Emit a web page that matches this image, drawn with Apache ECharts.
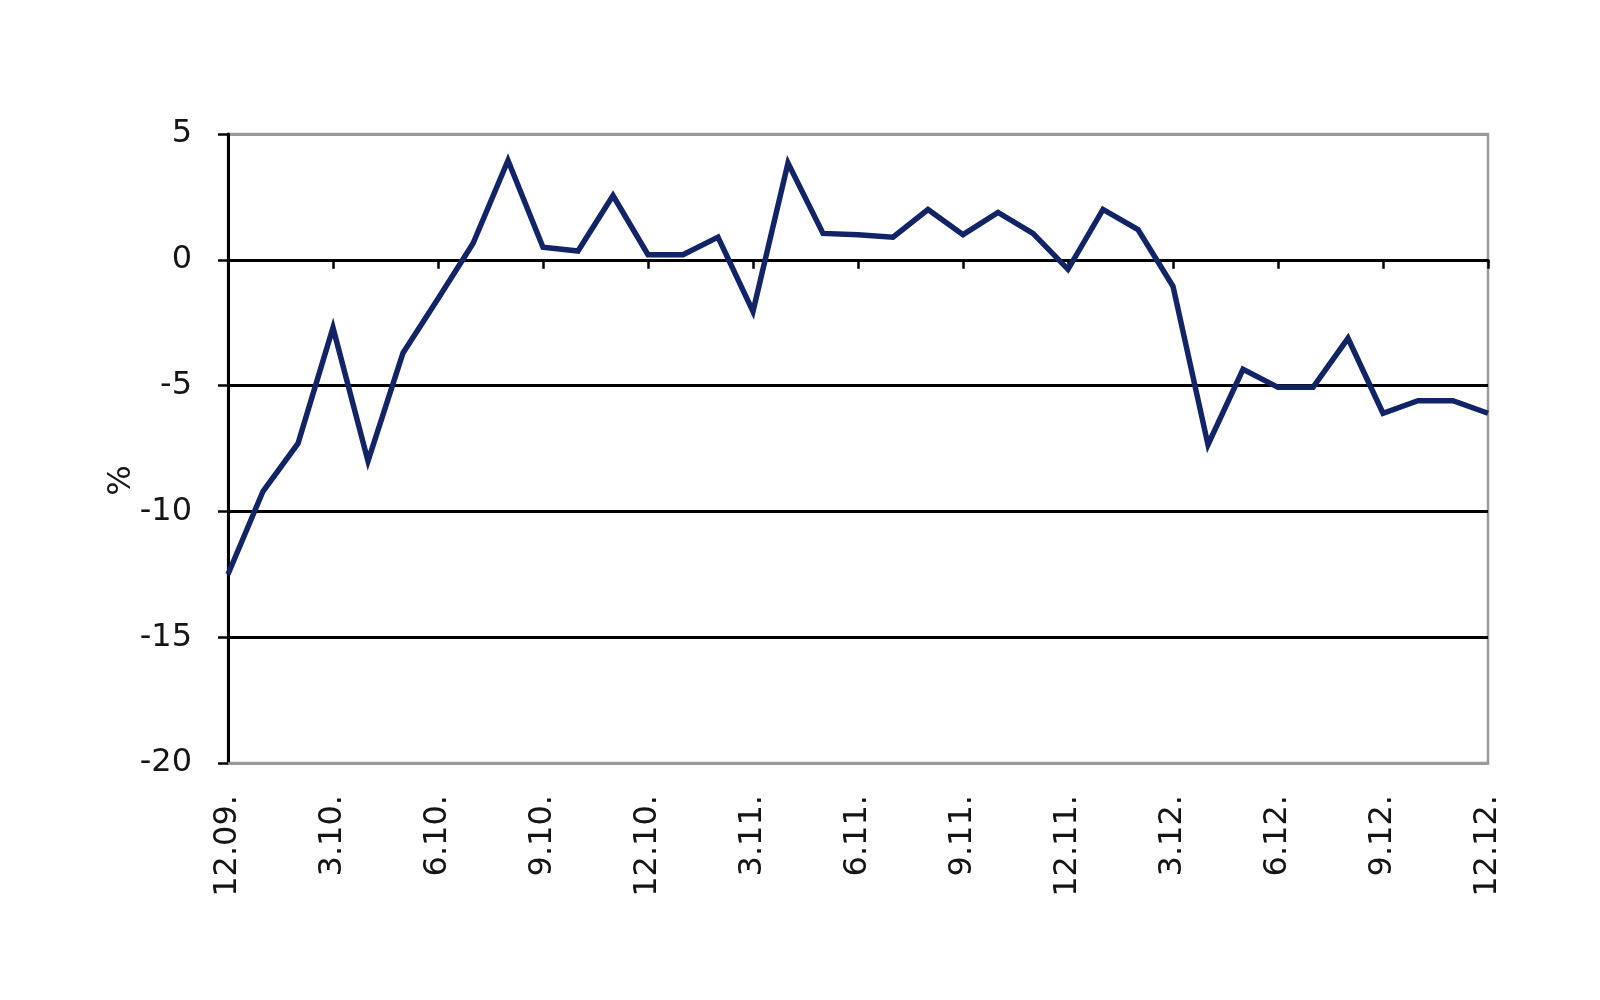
<!DOCTYPE html>
<html>
<head>
<meta charset="utf-8">
<script src="https://cdn.jsdelivr.net/npm/echarts@6/dist/echarts.min.js"></script>
<style>
html,body{margin:0;padding:0;background:#fff;}
#chart{width:1600px;height:1000px;}
</style>
</head>
<body>
<div id="chart"></div>
<script>
var categories = [
  "12.09.",
  "1.10.","2.10.","3.10.","4.10.","5.10.","6.10.","7.10.","8.10.","9.10.","10.10.","11.10.","12.10.",
  "1.11.","2.11.","3.11.","4.11.","5.11.","6.11.","7.11.","8.11.","9.11.","10.11.","11.11.","12.11.",
  "1.12.","2.12.","3.12.","4.12.","5.12.","6.12.","7.12.","8.12.","9.12.","10.12.","11.12.","12.12."
];
var values = [
  -12.5,
  -9.2, -7.3, -2.7, -8.0, -3.7, -1.55, 0.65, 3.95, 0.5, 0.35, 2.55, 0.2,
  0.2, 0.9, -2.05, 3.85, 1.05, 1.0, 0.9, 2.0, 1.0, 1.88, 1.05, -0.38,
  2.0, 1.2, -1.05, -7.35, -4.35, -5.07, -5.07, -3.12, -6.1, -5.6, -5.6, -6.1
];
var yMin = -20, yMax = 5, yStep = 5;
var yName = "%";

var FONT = "'DejaVu Sans', sans-serif";
var chart = echarts.init(document.getElementById('chart'), null, {renderer: 'canvas'});
chart.setOption({
  animation: false,
  backgroundColor: '#ffffff',
  grid: {
    left: 228, right: 112, top: 134, bottom: 237,
    show: true, borderColor: '#9a9a9a', borderWidth: 2.5, backgroundColor: 'transparent'
  },
  xAxis: [
    {
      type: 'category', data: categories, boundaryGap: false, position: 'bottom',
      axisLine: {show: true, onZero: false, lineStyle: {color: '#9a9a9a', width: 2.5}},
      axisTick: {show: false},
      splitLine: {show: false},
      axisLabel: {
        interval: 2, rotate: 90, margin: 32,
        fontFamily: FONT, fontSize: 32, color: '#151515'
      }
    },
    {
      type: 'category', data: categories, boundaryGap: false, position: 'bottom',
      axisLine: {show: true, onZero: true, lineStyle: {color: '#000000', width: 3}},
      axisTick: {show: true, interval: 2, length: 9, inside: false, lineStyle: {color: '#000000', width: 2.5}},
      axisLabel: {show: false},
      splitLine: {show: false}
    }
  ],
  yAxis: {
    type: 'value', min: yMin, max: yMax, interval: yStep,
    name: yName, nameLocation: 'middle', nameGap: 90, nameRotate: 90, nameMoveOverlap: false,
    nameTextStyle: {fontFamily: FONT, fontSize: 32, color: '#151515', padding: [0, 64, 0, 0]},
    axisLine: {show: true, lineStyle: {color: '#000000', width: 3}},
    axisTick: {show: true, length: 10, lineStyle: {color: '#000000', width: 2.5}},
    axisLabel: {margin: 36, fontFamily: FONT, fontSize: 32, color: '#151515'},
    splitLine: {show: true, lineStyle: {color: ['#9a9a9a', '#000000', '#000000', '#000000', '#000000', '#9a9a9a'], width: 3}}
  },
  series: [{
    type: 'line', data: values, xAxisIndex: 0, yAxisIndex: 0,
    symbol: 'none', smooth: false,
    lineStyle: {color: '#122468', width: 5.5, join: 'miter'},
    z: 5
  }]
});
</script>
</body>
</html>
